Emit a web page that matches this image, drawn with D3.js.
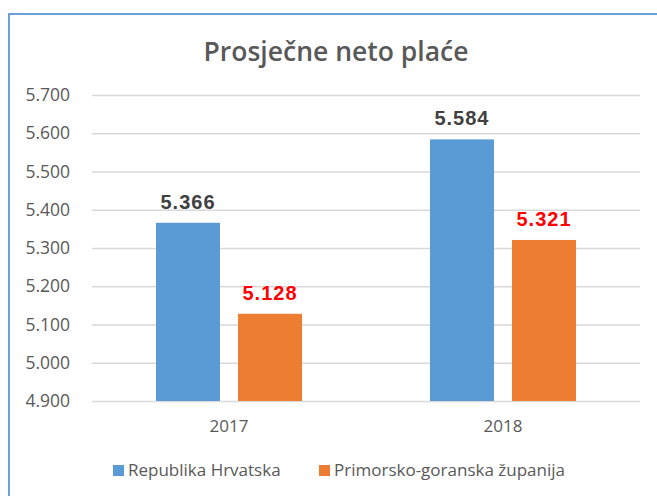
<!DOCTYPE html>
<html>
<head>
<meta charset="utf-8">
<script src="https://cdn.jsdelivr.net/npm/d3@7"></script>
<style>
  body { margin: 0; background: #fff; }
  svg { display: block; }
</style>
</head>
<body>
<script>
// data
const years = ["2017", "2018"];
const seriesNames = ["Republika Hrvatska", "Primorsko-goranska županija"];
const hrvatska = [5366, 5584];
const primorsko = [5128, 5321];
const yTicks = [4900, 5000, 5100, 5200, 5300, 5400, 5500, 5600, 5700];

const colors = ["#5b9bd5", "#ed7d31"];
const labelColors = ["#404040", "#ff0000"];

const width = 657, height = 496;
const plot = { left: 92, right: 640, top: 95, bottom: 401 };
const font = "Open Sans, sans-serif";

const svg = d3.select("body").append("svg")
    .attr("width", width)
    .attr("height", height);

// chart frame (only top and left edges are visible in the picture)
svg.append("path")
    .attr("d", `M9,${height} V14 H${width}`)
    .attr("fill", "none")
    .attr("stroke", "#6d9fd8")
    .attr("stroke-width", 2);

svg.append("text")
    .attr("x", 336)
    .attr("y", 61)
    .attr("text-anchor", "middle")
    .attr("font-family", font)
    .attr("font-weight", 600)
    .attr("font-size", 26.5)
    .attr("fill", "#595959")
    .text("Prosječne neto plaće");

const y = d3.scaleLinear()
    .domain([4900, 5700])
    .range([plot.bottom, plot.top]);

const x0 = d3.scaleBand()
    .domain(years)
    .range([plot.left, plot.right])
    .paddingInner(0.467)
    .paddingOuter(0.2336);

const x1 = d3.scaleBand()
    .domain(seriesNames)
    .range([0, x0.bandwidth()])
    .paddingInner(0.2195);

// gridlines + y labels
const yAxis = d3.axisLeft(y)
    .tickValues(yTicks)
    .tickSize(-(plot.right - plot.left))
    .tickPadding(22)
    .tickFormat(d => d3.format(".3f")(d / 1000));

const gy = svg.append("g")
    .attr("transform", `translate(${plot.left},0)`)
    .call(yAxis);
gy.select(".domain").remove();
gy.selectAll(".tick line").attr("stroke", "#d9d9d9").attr("stroke-width", 1.3);
gy.selectAll(".tick text")
    .attr("font-family", font)
    .attr("font-size", 17.5)
    .attr("fill", "#595959");

const xAxis = d3.axisBottom(x0).tickSize(0).tickPadding(19);
const gx = svg.append("g")
    .attr("transform", `translate(0,${plot.bottom})`)
    .call(xAxis);
gx.select(".domain").remove();
gx.selectAll(".tick text")
    .attr("font-family", font)
    .attr("font-size", 17)
    .attr("fill", "#595959");

const table = years.map((yr, i) => ({
    year: yr,
    values: [hrvatska[i], primorsko[i]]
}));

const groups = svg.selectAll(".grp")
    .data(table)
    .enter()
    .append("g")
        .attr("class", "grp")
        .attr("transform", d => `translate(${x0(d.year)},0)`);

groups.selectAll("rect")
    .data(d => d.values.map((v, j) => ({ v, j })))
    .enter()
    .append("rect")
        .attr("x", d => x1(seriesNames[d.j]))
        .attr("width", x1.bandwidth())
        .attr("y", d => y(d.v))
        .attr("height", d => y(4900) - y(d.v))
        .attr("fill", d => colors[d.j]);

groups.selectAll(".val")
    .data(d => d.values.map((v, j) => ({ v, j })))
    .enter()
    .append("text")
        .attr("class", "val")
        .attr("x", d => x1(seriesNames[d.j]) + x1.bandwidth() / 2)
        .attr("y", d => y(d.v) - 14)
        .attr("text-anchor", "middle")
        .attr("font-family", "Liberation Sans, Arial, sans-serif")
        .attr("font-weight", "bold")
        .attr("font-size", 20)
        .attr("letter-spacing", 1)
        .attr("fill", d => labelColors[d.j])
        .text(d => d3.format(".3f")(d.v / 1000));

// legend
const legendX = [113, 319];
const legend = svg.selectAll(".leg")
    .data(seriesNames)
    .enter()
    .append("g")
        .attr("class", "leg")
        .attr("transform", (d, i) => `translate(${legendX[i]},465)`);

legend.append("rect")
    .attr("width", 11)
    .attr("height", 11)
    .attr("fill", (d, i) => colors[i]);

legend.append("text")
    .attr("x", 15)
    .attr("y", 11)
    .attr("font-family", font)
    .attr("font-size", 17)
    .attr("fill", "#595959")
    .text(d => d);
</script>
</body>
</html>
